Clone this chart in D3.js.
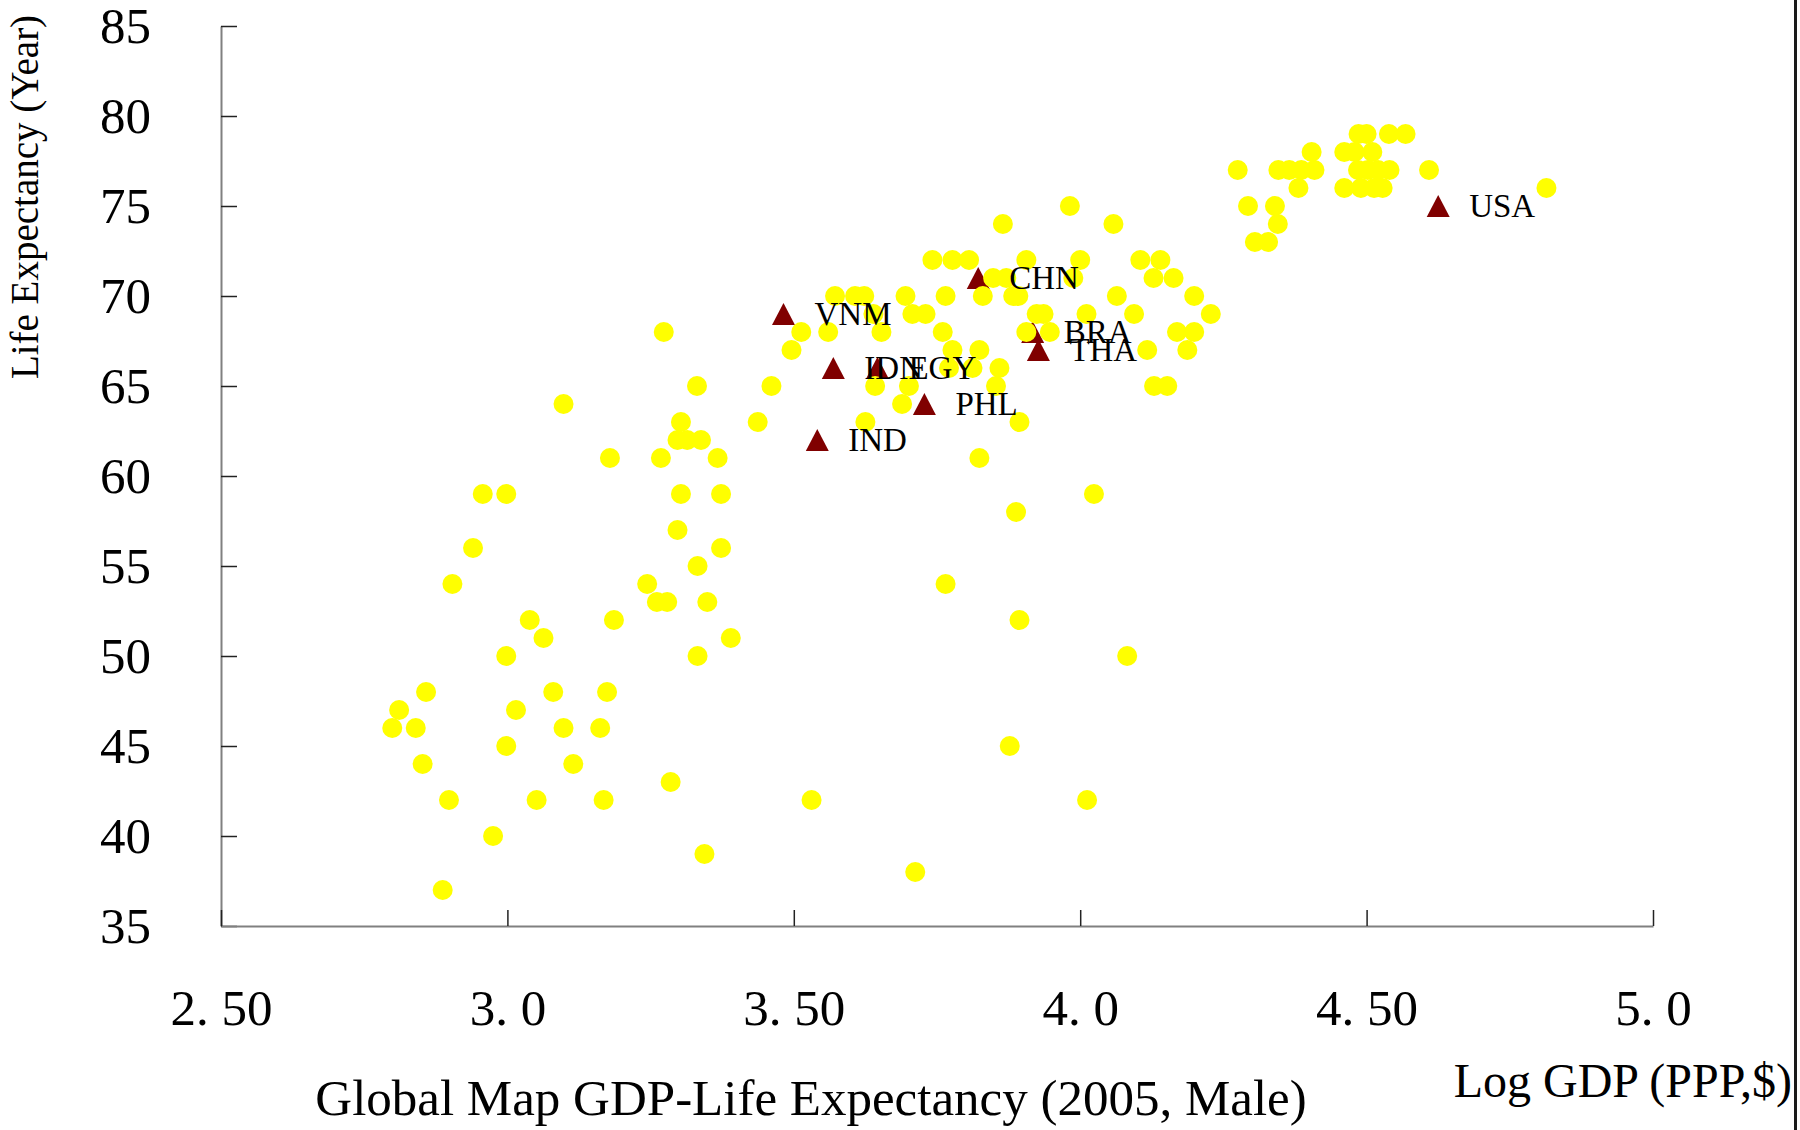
<!DOCTYPE html>
<html>
<head>
<meta charset="utf-8">
<script src="https://cdn.jsdelivr.net/npm/d3@7"></script>
<style>
  html, body { margin: 0; padding: 0; background: #ffffff; }
  svg { display: block; }
  text { font-family: "Liberation Serif", "Times New Roman", serif; fill: #000; }
</style>
</head>
<body>
<svg id="chart" width="1800" height="1130"></svg>
<script>
// Countries: log10 GDP per capita (PPP, $) against male life expectancy, 2005
const gdpLog = [
  4.486, 4.500, 4.539, 4.568,
  4.404, 4.461, 4.479, 4.510,
  4.275, 4.346, 4.365, 4.386, 4.409, 4.485, 4.502, 4.520, 4.540, 4.609,
  4.381, 4.461, 4.490, 4.513, 4.528, 4.814,
  3.982, 4.293, 4.340,
  3.865, 4.058, 4.345,
  4.305, 4.328,
  3.742, 3.777, 3.806, 3.906, 4.000, 4.105, 4.140,
  3.848, 3.871, 3.988, 4.128, 4.163,
  3.572, 3.607, 3.623, 3.695, 3.765, 3.830, 3.883, 3.892, 4.064, 4.199,
  3.639, 3.707, 3.730, 3.924, 3.936, 4.011, 4.094, 4.228,
  3.273, 3.513, 3.560, 3.653, 3.760, 3.906, 3.947, 4.169, 4.199,
  3.496, 3.777, 3.824, 4.117, 4.187,
  3.771, 3.812, 3.859,
  3.331, 3.461, 3.642, 3.701, 3.853, 4.129, 4.152,
  3.098, 3.689,
  3.303, 3.437, 3.625, 3.894,
  3.297, 3.314, 3.338,
  3.179, 3.268, 3.367, 3.824,
  2.957, 2.998, 3.303, 3.373, 4.024,
  3.888,
  3.297,
  2.940, 3.373,
  3.332,
  2.904, 3.244, 3.765,
  3.261, 3.279, 3.349,
  3.039, 3.186, 3.894,
  3.063, 3.390,
  2.998, 3.332, 4.082,
  2.858, 3.080, 3.174,
  2.811, 3.015,
  2.799, 2.840, 3.098, 3.162,
  2.998, 3.877,
  2.852, 3.115,
  3.285,
  2.898, 3.051, 3.168, 3.531, 4.012,
  2.975,
  3.344,
  3.712,
  2.887
];
const lifeExp = [
  79, 79, 79, 79,
  78, 78, 78, 78,
  77, 77, 77, 77, 77, 77, 77, 77, 77, 77,
  76, 76, 76, 76, 76, 76,
  75, 75, 75,
  74, 74, 74,
  73, 73,
  72, 72, 72, 72, 72, 72, 72,
  71, 71, 71, 71, 71,
  70, 70, 70, 70, 70, 70, 70, 70, 70, 70,
  69, 69, 69, 69, 69, 69, 69, 69,
  68, 68, 68, 68, 68, 68, 68, 68, 68,
  67, 67, 67, 67, 67,
  66, 66, 66,
  65, 65, 65, 65, 65, 65, 65,
  64, 64,
  63, 63, 63, 63,
  62, 62, 62,
  61, 61, 61, 61,
  59, 59, 59, 59, 59,
  58,
  57,
  56, 56,
  55,
  54, 54, 54,
  53, 53, 53,
  52, 52, 52,
  51, 51,
  50, 50, 50,
  48, 48, 48,
  47, 47,
  46, 46, 46, 46,
  45, 45,
  44, 44,
  43,
  42, 42, 42, 42, 42,
  40,
  39,
  38,
  37
];

// Highlighted countries
const countryCodes   = ["VNM", "IDN", "EGY", "CHN", "BRA", "THA", "PHL", "IND", "USA"];
const countryGdpLog  = [3.482, 3.569, 3.646, 3.822, 3.917, 3.927, 3.728, 3.541, 4.625];
const countryLifeExp = [69, 66, 66, 71, 68, 67, 64, 62, 75];

// Axis ticks
const xTickValues = [2.5, 3.0, 3.5, 4.0, 4.5, 5.0];
const xTickLabels = ["2. 50", "3. 0", "3. 50", "4. 0", "4. 50", "5. 0"];
const yTickValues = [35, 40, 45, 50, 55, 60, 65, 70, 75, 80, 85];

const svg = d3.select("#chart");

const x = d3.scaleLinear().domain([2.5, 5.0]).range([221, 1653]);
const y = d3.scaleLinear().domain([35, 85]).range([926, 26]);

// Y axis
const yAxis = svg.append("g")
  .attr("transform", `translate(${x(2.5)},0)`)
  .call(d3.axisLeft(y).tickValues(yTickValues).tickSize(-16).tickSizeOuter(0)
    .tickPadding(70).tickFormat(d3.format("d")));
yAxis.select(".domain").attr("stroke", "#808080").attr("stroke-width", 2);
yAxis.selectAll(".tick line").attr("stroke", "#222").attr("stroke-width", 1.5);
yAxis.selectAll(".tick text").attr("font-size", 51).attr("font-family", "Liberation Serif");

// X axis
const xAxis = svg.append("g")
  .attr("transform", `translate(0,${y(35)})`)
  .call(d3.axisBottom(x).tickValues(xTickValues).tickSize(-16).tickSizeOuter(0)
    .tickPadding(63).tickFormat((d, i) => xTickLabels[i]));
xAxis.select(".domain").attr("stroke", "#808080").attr("stroke-width", 2);
xAxis.selectAll(".tick line").attr("stroke", "#222").attr("stroke-width", 1.5);
xAxis.selectAll(".tick text").attr("font-size", 51).attr("font-family", "Liberation Serif");

// Highlighted country markers (drawn beneath the general scatter)
const tri = "M0,-11L11.5,11L-11.5,11Z";
svg.append("g").selectAll("path")
  .data(countryCodes.map((c, i) => ({ code: c, gx: countryGdpLog[i], le: countryLifeExp[i] })))
  .join("path")
  .attr("d", tri)
  .attr("transform", d => `translate(${x(d.gx)},${y(d.le)})`)
  .attr("fill", "#800000");

// All countries
svg.append("g").selectAll("circle")
  .data(gdpLog.map((g, i) => ({ gx: g, le: lifeExp[i] })))
  .join("circle")
  .attr("cx", d => x(d.gx))
  .attr("cy", d => y(d.le))
  .attr("r", 10)
  .attr("fill", "#ffff00");

// Country code labels
svg.append("g").selectAll("text")
  .data(countryCodes.map((c, i) => ({ code: c, gx: countryGdpLog[i], le: countryLifeExp[i] })))
  .join("text")
  .attr("x", d => x(d.gx) + 31)
  .attr("y", d => y(d.le))
  .attr("dy", "0.33em")
  .attr("font-size", 33)
  .text(d => d.code);

// Axis titles
svg.append("text")
  .attr("transform", "translate(38,197) rotate(-90)")
  .attr("text-anchor", "middle")
  .attr("font-size", 39)
  .text("Life Expectancy (Year)");

svg.append("text")
  .attr("x", 811)
  .attr("y", 1115)
  .attr("text-anchor", "middle")
  .attr("font-size", 51)
  .text("Global Map GDP-Life Expectancy (2005, Male)");

svg.append("text")
  .attr("x", 1792)
  .attr("y", 1097)
  .attr("text-anchor", "end")
  .attr("font-size", 48)
  .text("Log GDP (PPP,$)");

// Right-hand frame edge
svg.append("rect")
  .attr("x", 1794).attr("y", 0)
  .attr("width", 3).attr("height", 1130)
  .attr("fill", "#1a1a1a");
</script>
</body>
</html>
